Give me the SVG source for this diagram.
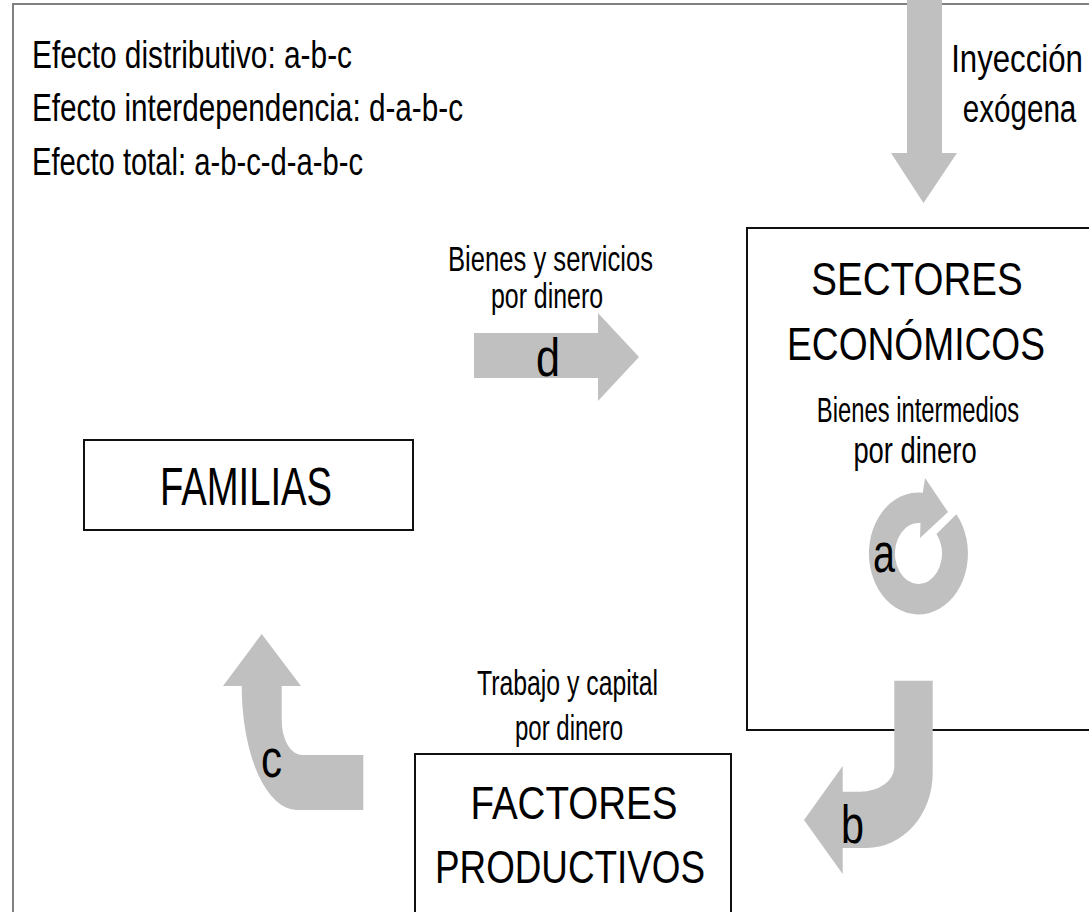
<svg xmlns="http://www.w3.org/2000/svg" width="1089" height="912" viewBox="0 0 1089 912">
<style>
text{font-family:"Liberation Sans Narrow","Liberation Sans",Arial,sans-serif;fill:#000;}
.m{text-anchor:middle;}
.fill{fill:#fff;stroke:none;}
.edge{fill:none;stroke:#111;stroke-width:2;}
.arr{fill:#c0c0c0;stroke:none;}
</style>
<rect width="1089" height="912" fill="#fff"/>
<path d="M13,912 L13,4 L1089,4" fill="none" stroke="#808080" stroke-width="2"/>
<g id="legend">
<text x="32" y="68" font-size="38" textLength="320" lengthAdjust="spacingAndGlyphs">Efecto distributivo: a-b-c</text>
<text x="32" y="121" font-size="38" textLength="431" lengthAdjust="spacingAndGlyphs">Efecto interdependencia: d-a-b-c</text>
<text x="32" y="175" font-size="38" textLength="331" lengthAdjust="spacingAndGlyphs">Efecto total: a-b-c-d-a-b-c</text>
</g>
<g id="sectores">
<rect class="fill" x="747" y="228" width="342" height="502"/>
<path class="edge" d="M1089,228 L747,228 L747,730 L1089,730"/>
<text class="m" transform="translate(917,295) scale(0.82,1)" font-size="47">SECTORES</text>
<text class="m" transform="translate(916,360) scale(0.79,1)" font-size="47">ECONÓMICOS</text>
<text class="m" transform="translate(918,422) scale(0.68,1)" font-size="35">Bienes intermedios</text>
<text class="m" transform="translate(915,463) scale(0.74,1)" font-size="37">por dinero</text>
</g>
<g id="familias">
<rect class="fill" x="84" y="440" width="329" height="90"/>
<rect class="edge" x="84" y="440" width="329" height="90"/>
<text class="m" x="246" y="505" font-size="54" textLength="172" lengthAdjust="spacingAndGlyphs">FAMILIAS</text>
</g>
<g id="factores">
<rect class="fill" x="415" y="754" width="316" height="158"/>
<path class="edge" d="M415,912 L415,754 L731,754 L731,912"/>
<text class="m" x="574" y="819" font-size="46" textLength="207" lengthAdjust="spacingAndGlyphs">FACTORES</text>
<text class="m" x="570" y="883" font-size="46" textLength="270" lengthAdjust="spacingAndGlyphs">PRODUCTIVOS</text>
</g>
<g id="connectors">
<g id="inyeccion">
<path class="arr" d="M907,0 L942,0 L942,153 L957,153 L923.5,203 L891,153 L907,153 Z"/>
<text class="m" transform="translate(1017,72) scale(0.8,1)" font-size="39">Inyección</text>
<text class="m" transform="translate(1019.5,122) scale(0.76,1)" font-size="39">exógena</text>
</g>
<g id="arrow-d">
<path class="arr" d="M474,333 L598,333 L598,313 L639,357 L598,401 L598,378 L474,378 Z"/>
<text class="m" x="550.5" y="271" font-size="35" textLength="205" lengthAdjust="spacingAndGlyphs">Bienes y servicios</text>
<text class="m" x="547" y="308" font-size="35" textLength="112" lengthAdjust="spacingAndGlyphs">por dinero</text>
<text class="m" x="548" y="376" font-size="53" textLength="24" lengthAdjust="spacingAndGlyphs">d</text>
</g>
<g id="arrow-a">
<path class="arr" d="M956.4,514.3 A49.5,61 0 1 1 922.8,492.7 L925,478 L948,512 L920,538 L920.5,523.1 A23.5,30.5 0 1 0 936.5,533.9 Z"/>
<text class="m" x="884" y="572" font-size="56" textLength="22" lengthAdjust="spacingAndGlyphs">a</text>
</g>
<g id="arrow-b">
<path class="arr" d="M894.3,680.7 L932.7,680.7 L932.7,773 A66,75 0 0 1 866.7,848 L842.7,848 L842.7,874 L804,820 L842.7,766 L842.7,791.7 L860,791.7 A34.3,24.7 0 0 0 894.3,767 Z"/>
<text class="m" x="852.5" y="843" font-size="54" textLength="23" lengthAdjust="spacingAndGlyphs">b</text>
</g>
<g id="arrow-c">
<path class="arr" d="M363.3,755 L301.7,755 A20,35 0 0 1 281.7,720 L281.7,686 L301,686 L261.7,634 L223,686 L241.7,686 A55,124 0 0 0 296.7,810 L363.3,810 Z"/>
<text class="m" x="271.5" y="777" font-size="54" textLength="21" lengthAdjust="spacingAndGlyphs">c</text>
<text class="m" x="567.5" y="695" font-size="35" textLength="181" lengthAdjust="spacingAndGlyphs">Trabajo y capital</text>
<text class="m" x="569" y="740" font-size="35" textLength="108" lengthAdjust="spacingAndGlyphs">por dinero</text>
</g>
</g>
</svg>
